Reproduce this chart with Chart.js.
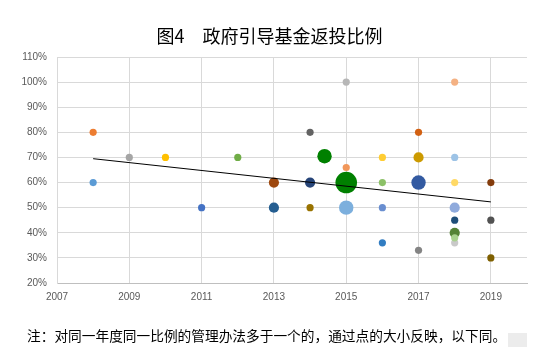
<!DOCTYPE html>
<html>
<head>
<meta charset="utf-8">
<script src="https://cdn.jsdelivr.net/npm/chart.js@4.4.1/dist/chart.umd.min.js"></script>
<style>
  html, body { margin: 0; padding: 0; background: #fff; }
  #wrap { position: relative; width: 539px; height: 361px; overflow: hidden; }
  #chart { position: absolute; left: 0; top: 0; }
  .title {
    position: absolute; left: 0; width: 539px; top: 23px; text-align: center;
    font-family: "Noto Sans CJK SC", sans-serif; font-size: 18px; color: #000;
    line-height: 24px;
  }
  .note {
    position: absolute; left: 27px; top: 326px;
    font-family: "Noto Sans CJK SC", sans-serif; font-size: 13.7px; color: #000;
    line-height: 18px; white-space: nowrap;
  }
  .mark { position: absolute; left: 508px; top: 333px; width: 19px; height: 14px; background: #ececec; }
</style>
</head>
<body>
<div id="wrap">
  <canvas id="chart" width="539" height="361"></canvas>
  <div class="title">图4　政府引导基金返投比例</div>
  <div class="note">注：对同一年度同一比例的管理办法多于一个的，通过点的大小反映，以下同。</div>
  <div class="mark"></div>
</div>
<script>
// year, share (%), number of policies at that point
const years = [2008, 2008, 2009, 2010, 2011, 2012, 2013, 2013, 2014, 2014, 2014, 2014.4,
  2015, 2015, 2015, 2015, 2016, 2016, 2016, 2016, 2017, 2017, 2017, 2017,
  2018, 2018, 2018, 2018, 2018, 2018, 2018, 2018, 2019, 2019, 2019];
const shares = [80, 60, 70, 70, 50, 70, 60, 50, 80, 60, 50, 70.5,
  100, 66, 60, 50, 70, 60, 50, 36, 80, 70, 60, 33,
  100, 70, 60, 50, 45, 36, 40, 38, 60, 45, 30];
const counts = [1, 1, 1, 1, 1, 1, 2, 2, 1, 2, 1, 4,
  1, 1, 9, 4, 1, 1, 1, 1, 1, 2, 4, 1,
  1, 1, 1, 2, 1, 1, 2, 1, 1, 1, 1];

// trend line end points
const trendYears = [2008, 2019];
const trendShares = [69.5, 52.3];

const xTicks = [2007, 2009, 2011, 2013, 2015, 2017, 2019];
const yTicks = [20, 30, 40, 50, 60, 70, 80, 90, 100, 110];

const pointColors = ["#ED7D31", "#5B9BD5", "#A5A5A5", "#FFC000", "#4472C4", "#70AD47",
  "#9E480E", "#255E91", "#636363", "#264478", "#997300", "#008000",
  "#B7B7B7", "#F1975A", "#008000", "#7CAFDD", "#FFCD33", "#8CC168", "#698ED0", "#327DC2",
  "#D26012", "#CC9A00", "#335AA1", "#848484",
  "#F4B183", "#9DC3E6", "#FFD966", "#8FAADC", "#1F4E79", "#C9C9C9", "#548235", "#A9D18E",
  "#843C0C", "#525252", "#7F6000"];

// bubble area grows with the count
const radius = (n) => 3.6 * Math.sqrt(n);

const bubbles = years.map((y, i) => ({ x: y, y: shares[i], r: radius(counts[i]) }));
const trend = trendYears.map((y, i) => ({ x: y, y: trendShares[i] }));

const tickFont = { family: "Liberation Sans, Arial, sans-serif", size: 10 };

new Chart(document.getElementById("chart"), {
  type: "bubble",
  data: {
    datasets: [
      {
        type: "line",
        data: trend,
        borderColor: "#000",
        borderWidth: 1,
        pointRadius: 0,
        fill: false,
        order: 0,
      },
      {
        data: bubbles,
        backgroundColor: pointColors,
        borderWidth: 0,
        order: 1,
      },
    ],
  },
  options: {
    responsive: false,
    animation: false,
    events: [],
    layout: { padding: { top: 57, right: 12, left: 0, bottom: 0 } },
    plugins: { legend: { display: false }, tooltip: { enabled: false } },
    scales: {
      x: {
        type: "linear",
        min: 2007,
        max: 2020,
        afterBuildTicks: (scale) => { scale.ticks = xTicks.map((v) => ({ value: v })); },
        afterFit: (scale) => { scale.height = 78; },
        ticks: { color: "#595959", font: tickFont, padding: 8, callback: (v) => String(v) },
        grid: {
          drawTicks: false,
          color: (ctx) => (ctx.tick && ctx.tick.value === 2007 ? "rgba(0,0,0,0)" : "#D9D9D9"),
        },
        border: { color: "#BFBFBF" },
      },
      y: {
        min: 20,
        max: 110,
        afterBuildTicks: (scale) => { scale.ticks = yTicks.map((v) => ({ value: v })); },
        afterFit: (scale) => { scale.width = 57; },
        ticks: { color: "#595959", font: tickFont, padding: 10, callback: (v) => v + "%" },
        grid: { drawTicks: false, color: "#D9D9D9" },
        border: { color: "#D9D9D9" },
      },
    },
  },
});
</script>
</body>
</html>
